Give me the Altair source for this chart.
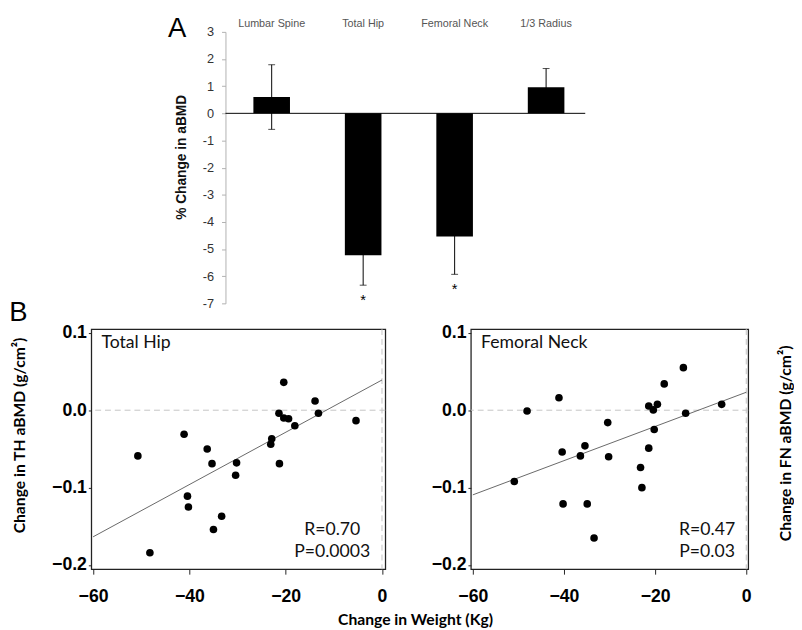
import altair as alt
import pandas as pd

# ---------------- Panel A data ----------------
sites = ["Lumbar Spine", "Total Hip", "Femoral Neck", "1/3 Radius"]
pct_change = [0.60, -5.23, -4.54, 0.96]
pct_err = [1.19, 1.10, 1.39, 0.69]
signif = ["", "*", "*", ""]

# ---------------- Panel B data ----------------
th_weight = [-20.4, -13.9, -13.2, -5.4, -21.4, -20.4, -19.4, -18.1, -22.9, -23.1, -21.3,
             -41.1, -36.3, -35.3, -30.2, -30.4, -50.7, -40.4, -40.2, -33.3, -35.0, -48.2]
th_bmd = [0.036, 0.012, -0.004, -0.0135, -0.004, -0.010, -0.011, -0.020, -0.037, -0.044, -0.069,
          -0.031, -0.050, -0.069, -0.068, -0.084, -0.059, -0.111, -0.125, -0.137, -0.154, -0.184]

fn_weight = [-13.8, -18.0, -5.4, -13.3, -21.4, -19.5, -20.4, -20.2, -21.4, -23.2, -22.9,
             -41.1, -48.1, -30.4, -40.4, -35.4, -36.4, -30.2, -50.9, -40.2, -34.9, -33.4]
fn_bmd = [0.055, 0.034, 0.0076, -0.004, 0.0055, 0.0076, 0.0004, -0.025, -0.049, -0.074, -0.100,
          0.016, -0.001, -0.016, -0.054, -0.046, -0.059, -0.060, -0.092, -0.121, -0.121, -0.165]

weight_ticks = [-60, -40, -20, 0]
bmd_ticks = [-0.2, -0.1, 0.0, 0.1]
pct_ticks = [-7, -6, -5, -4, -3, -2, -1, 0, 1, 2, 3]

FONT_A = "Liberation Sans"
FONT_B = "Lato"

# ---------------- Panel A ----------------
A_LEFT = 136.9      # where panel A's axis sits, measured from panel B's left frame
A_WIDTH = 504

dfA = pd.DataFrame({"site": sites, "change": pct_change, "err": pct_err, "sig": signif})
baseA = alt.Chart(dfA).transform_calculate(
    lo="datum.change - datum.err", hi="datum.change + datum.err"
)

xA = alt.X(
    "site:N", sort=sites,
    scale=alt.Scale(paddingInner=0.6, paddingOuter=1.0, align=0.886),
    axis=alt.Axis(orient="top", title=None, labelAngle=0, domain=False, ticks=False,
                  labelFont=FONT_A, labelFontSize=11, labelColor="#555", labelPadding=3),
)
ysA = alt.Scale(domain=[-7, 3], nice=False, zero=False)
axA = alt.Axis(values=pct_ticks, title="% Change in aBMD", grid=False, offset=-A_LEFT,
               domainColor="#b0b0b0", tickColor="#b0b0b0", tickSize=4,
               labelFont=FONT_A, labelFontSize=13, labelColor="#333", labelPadding=8,
               labelExpr="toString(datum.value)",
               titleFont=FONT_A, titleFontSize=14, titleFontWeight="bold", titleColor="#111",
               titleAngle=270, titleX=-44.7, titleY=127.5, titleAlign="center",
               titleBaseline="middle")

err_rule = baseA.mark_rule(color="black", strokeWidth=1).encode(
    x=xA, y=alt.Y("lo:Q", scale=ysA, axis=axA), y2="hi:Q")
cap_lo = baseA.mark_tick(color="black", size=7, thickness=1).encode(
    x=xA, y=alt.Y("lo:Q", scale=ysA, axis=axA))
cap_hi = baseA.mark_tick(color="black", size=7, thickness=1).encode(
    x=xA, y=alt.Y("hi:Q", scale=ysA, axis=axA))
bars = baseA.mark_bar(color="black").encode(
    x=xA, y=alt.Y("change:Q", scale=ysA, axis=axA))
zero_line = alt.Chart(pd.DataFrame({"zero": [0.0]})).mark_rule(
    color="black", strokeWidth=1).encode(
    x=alt.value(A_LEFT), x2=alt.value(A_WIDTH), y=alt.Y("zero:Q", scale=ysA, axis=axA))
stars = baseA.mark_text(font=FONT_A, fontSize=15, dy=15, baseline="middle").encode(
    x=xA, y=alt.Y("lo:Q", scale=ysA, axis=axA), text="sig:N")
letterA = alt.Chart(pd.DataFrame({"panel": ["A"]})).mark_text(
    font=FONT_A, fontSize=28, align="center", baseline="alphabetic", color="black"
).encode(text="panel:N", x=alt.value(87.5), y=alt.value(5))

chartA = alt.layer(err_rule, cap_lo, cap_hi, bars, zero_line, stars, letterA).properties(
    width=A_WIDTH, height=277)

# ---------------- Panel B ----------------
ysB = alt.Scale(domain=[-0.2054, 0.1047], nice=False, zero=False)


def scatter_panel(weight, bmd, name, stats, ytitle, width, xdomain,
                  ytitle_x, ytitle_y, stats_x, xtitle=None, letter=None):
    df = pd.DataFrame({"w": weight, "b": bmd})
    xs = alt.Scale(domain=xdomain, nice=False, zero=False)
    xkw = dict(values=weight_ticks, format="d", grid=False, domain=False, tickSize=5,
               tickColor="#222", labelFont=FONT_A, labelFontSize=18,
               labelFontWeight="bold", labelColor="black", labelPadding=14)
    if xtitle:
        xkw.update(title=xtitle, titleFont=FONT_B, titleFontSize=16, titleFontWeight="bold",
                   titleColor="black", titleX=330.3, titleY=56.7, titleAlign="center",
                   titleBaseline="alphabetic")
    else:
        xkw.update(title=None)
    xax = alt.Axis(**xkw)
    yax = alt.Axis(values=bmd_ticks, format=".1f", grid=False, domain=False, tickSize=3,
                   tickColor="#222", labelFont=FONT_A, labelFontSize=18,
                   labelFontWeight="bold", labelColor="black", labelPadding=2,
                   title=ytitle, titleFont=FONT_B, titleFontSize=16, titleFontWeight="bold",
                   titleColor="black", titleAngle=270, titleX=ytitle_x, titleY=ytitle_y,
                   titleAlign="center", titleBaseline="middle")
    X = lambda f: alt.X(f, scale=xs, axis=xax)
    Y = lambda f: alt.Y(f, scale=ysB, axis=yax)

    ref = alt.Chart(pd.DataFrame({"z": [0.0]}))
    hline = ref.mark_rule(color="#c4c4c4", strokeDash=[6, 4], strokeWidth=1).encode(y=Y("z:Q"))
    vline = ref.mark_rule(color="#c4c4c4", strokeDash=[6, 4], strokeWidth=1).encode(x=X("z:Q"))
    base = alt.Chart(df)
    fit = base.transform_regression("w", "b", extent=[-60, 0]).mark_line(
        color="#555", strokeWidth=0.9).encode(x=X("w:Q"), y=Y("b:Q"))
    pts = base.mark_circle(size=60, color="black", opacity=1).encode(x=X("w:Q"), y=Y("b:Q"))
    name_t = alt.Chart(pd.DataFrame({"t": [name]})).mark_text(
        font=FONT_B, fontSize=18, align="left", baseline="alphabetic", color="#111"
    ).encode(text="t:N", x=alt.value(10.3), y=alt.value(19.5))
    stat_t = alt.Chart(pd.DataFrame({"t": [stats]})).mark_text(
        font=FONT_B, fontSize=18, align="center", baseline="alphabetic", color="#111",
        lineBreak="\n", lineHeight=22.5
    ).encode(text="t:N", x=alt.value(stats_x), y=alt.value(210))
    layers = [hline, vline, fit, pts, name_t, stat_t]
    if letter:
        layers.append(alt.Chart(pd.DataFrame({"t": [letter]})).mark_text(
            font=FONT_A, fontSize=28, align="left", baseline="alphabetic", color="black"
        ).encode(text="t:N", x=alt.value(-83.7), y=alt.value(-8.3)))
    return alt.layer(*layers).properties(
        width=width, height=245,
        view=alt.ViewBackground(stroke="#222", strokeWidth=1.3))


th = scatter_panel(th_weight, th_bmd, "Total Hip", "R=0.70\nP=0.0003",
                   "Change in TH aBMD (g/cm²)", 300, [-60.37, 0.69],
                   -73, 108, 245.8, xtitle="Change in Weight (Kg)", letter="B")
fn = scatter_panel(fn_weight, fn_bmd, "Femoral Neck", "R=0.47\nP=0.03",
                   "Change in FN aBMD (g/cm²)", 283, [-60.43, 0.43],
                   321, 116, 241)

bottom = alt.hconcat(th, fn, spacing=87.3, bounds="flush")
chart = alt.vconcat(chartA, bottom, spacing=26.3, bounds="flush").properties(
    padding=0).configure_view(stroke="transparent")

chart.save("out.html", embed_options={"renderer": "svg", "actions": False})
